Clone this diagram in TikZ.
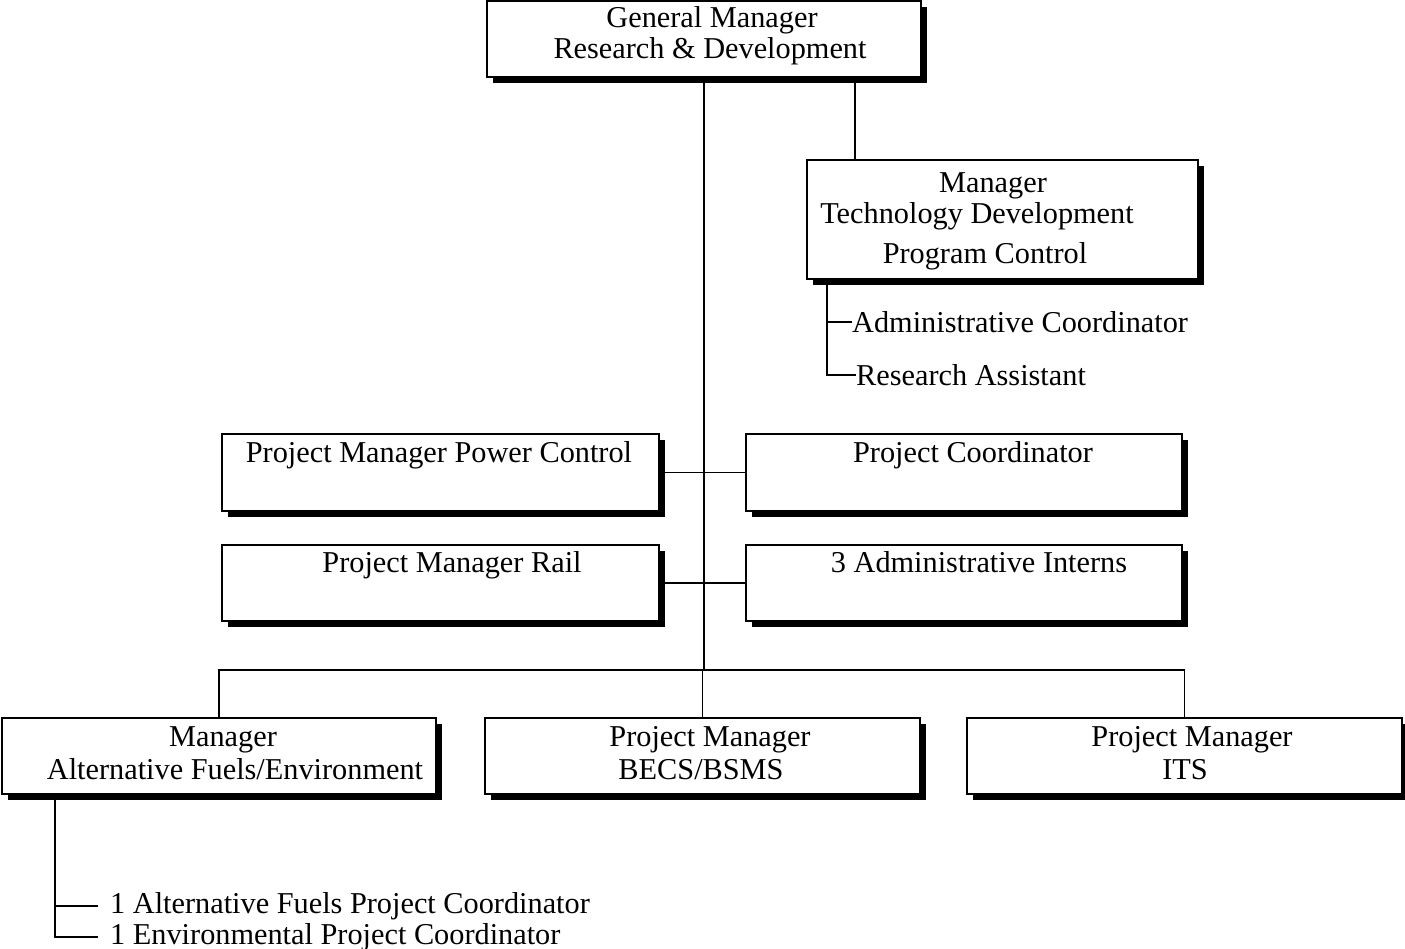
\documentclass[tikz,border=0pt]{standalone}
\usepackage{fontspec}
\setmainfont{Liberation Serif}
\usetikzlibrary{shadows}

\tikzset{
  orgbox/.style={draw, fill=white, line width=1.8pt, inner sep=0pt,
    general shadow={fill=black, shadow xshift=5.5pt, shadow yshift=-5.5pt}},
  lbl/.style={anchor=base, inner sep=0pt, font=\fontsize{30.3}{33}\selectfont},
  lblw/.style={lbl, anchor=base west},
  link/.style={line width=1.9pt},
}

\begin{document}
\begin{tikzpicture}[x=1pt, y=-1pt]
    \useasboundingbox (0,0) rectangle (1405,948);

    % General manager
    \node[orgbox, minimum width=434pt, minimum height=76pt] (gm) at (704,39) {};
    \node[lbl] (gmA) at (712,27) {General Manager};
    \node[lbl] (gmB) at (710,58) {Research \& Development};

    % Technology development
    \node[orgbox, minimum width=391pt, minimum height=119pt] (tdc) at (1002.5,219.5) {};
    \node[lbl] (tdcA) at (993,192) {Manager};
    \node[lbl] (tdcB) at (977,223) {Technology Development};
    \node[lbl] (tdcC) at (985,263) {Program Control};
    \node[lblw] (adc) at (852,332) {Administrative Coordinator};
    \node[lblw] (ra) at (856,385) {Research Assistant};

    % Middle rows
    \node[orgbox, minimum width=437pt, minimum height=77pt] (pmpc) at (440.5,472.5) {};
    \node[lbl] (pmpcT) at (439,462) {Project Manager Power Control};
    \node[orgbox, minimum width=436pt, minimum height=77pt] (pc) at (964,472.5) {};
    \node[lbl] (pcT) at (973,462) {Project Coordinator};
    \node[orgbox, minimum width=437pt, minimum height=76pt] (pmr) at (440.5,583) {};
    \node[lbl] (pmrT) at (452,572) {Project Manager Rail};
    \node[orgbox, minimum width=436pt, minimum height=76pt] (ai) at (964,583) {};
    \node[lbl] (aiT) at (979,572) {3 Administrative Interns};

    % Bottom row
    \node[orgbox, minimum width=434pt, minimum height=76pt] (afe) at (219,756) {};
    \node[lbl] (afeA) at (223,746) {Manager};
    \node[lbl] (afeB) at (235,779) {Alternative Fuels/Environment};
    \node[orgbox, minimum width=435pt, minimum height=76pt] (becs) at (702.5,756) {};
    \node[lbl] (becsA) at (710,746) {Project Manager};
    \node[lbl] (becsB) at (701,779) {BECS/BSMS};
    \node[orgbox, minimum width=435pt, minimum height=76pt] (its) at (1184.5,756) {};
    \node[lbl] (itsA) at (1192,746) {Project Manager};
    \node[lbl] (itsB) at (1185,779) {ITS};

    \node[lblw] (afc) at (110,913) {1 Alternative Fuels Project Coordinator};
    \node[lblw] (envc) at (110,944) {1 Environmental Project Coordinator};

    % Connectors
    \coordinate (bus) at (704,670);
    \coordinate (gmtap) at (855,77);
    \coordinate (tdbr) at (827,279);
    \coordinate (afbr) at (55,794);
    \draw[link] (gm.south -| bus) -- (bus);
    \draw[link] (afe.north) |- (bus) -| (its.north);
    \draw[link] (becs.north) -- (becs.north |- bus);
    \draw[link] (gmtap) -- (gmtap |- tdc.north);
    \draw[link] (pmpc.east) -- (pc.west);
    \draw[link] (pmr.east) -- (ai.west);
    \draw[link] (tdc.south -| tdbr) |- (ra.west);
    \draw[link] (tdbr |- adc.west) -- (adc.west);
    \draw[link] (afe.south -| afbr) |- ([xshift=-12pt]envc.west);
    \draw[link] (afbr |- afc.west) -- ([xshift=-12pt]afc.west);
\end{tikzpicture}
\end{document}
